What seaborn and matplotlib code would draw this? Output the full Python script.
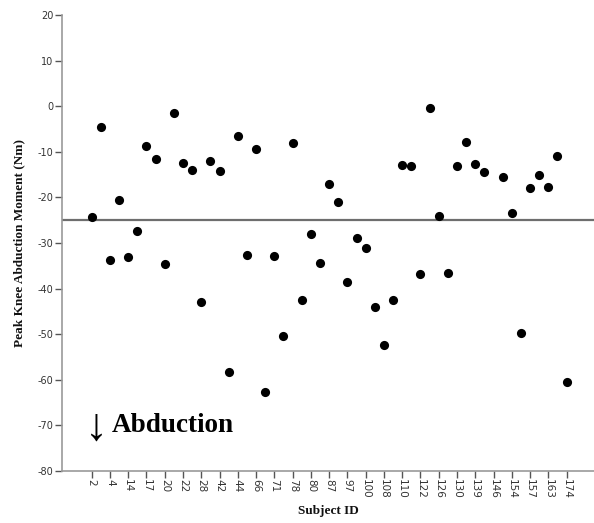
import numpy as np
import pandas as pd
import matplotlib
matplotlib.use("Agg")
import matplotlib.pyplot as plt
import seaborn as sns

subjects = ["2", "3", "4", "10", "14", "15", "17", "18", "20", "21", "22", "25", "28", "33",
            "42", "43", "44", "50", "66", "68", "71", "73", "78", "79", "80", "83", "87", "89",
            "97", "99", "100", "104", "108", "109", "110", "115", "122", "124", "126", "128",
            "130", "135", "139", "141", "146", "150", "154", "155", "157", "160", "163", "170", "174"]
moments = [-24.3, -4.5, -33.7, -20.5, -33.0, -27.4, -8.8, -11.6, -34.6, -1.4, -12.5, -13.9,
           -43.0, -12.0, -14.2, -58.3, -6.5, -32.7, -9.4, -62.6, -32.9, -50.4, -8.0, -42.5,
           -28.1, -34.4, -17.1, -21.1, -38.6, -28.8, -31.1, -44.1, -52.3, -42.5, -12.9, -13.1,
           -36.7, -0.3, -24.0, -36.5, -13.2, -7.8, -12.6, -14.5, np.nan, -15.6, -23.5, -49.7,
           -18.0, -15.0, -17.7, -11.0, -60.5]
labeled_ids = subjects[::2]
mean_line = -25.0
y_ticks = list(range(-80, 21, 10))

df = pd.DataFrame({"Subject ID": subjects, "Moment": moments})

sns.set_style("white")
fig = plt.figure(figsize=(5.94, 5.23), dpi=100)
ax = fig.add_axes([0.1044, 0.0994, 0.8956, 0.872])

sns.stripplot(data=df, x="Subject ID", y="Moment", order=subjects, jitter=False,
              color="black", size=6.6, linewidth=0, ax=ax, zorder=3)

ax.axhline(mean_line, color="#6e6e6e", linewidth=1.6, zorder=2)

ax.set_ylim(-80, 20)
ax.set_xlim(-3.25, 55.0)
ax.set_yticks(y_ticks)
ax.set_yticklabels([str(t) for t in y_ticks], fontsize=7, color="#333333", family="DejaVu Sans")
ax.set_xticks(range(0, len(subjects), 2))
ax.set_xticklabels(labeled_ids, rotation=-90, fontsize=7.5, color="#333333",
                   family="DejaVu Sans")
ax.tick_params(axis="both", which="both", direction="out", length=5, width=1,
               color="#555555", left=True, bottom=True, pad=1)

for s in ["top", "right"]:
    ax.spines[s].set_visible(False)
for s in ["left", "bottom"]:
    ax.spines[s].set_color("#999999")
    ax.spines[s].set_linewidth(1.2)

ax.set_ylabel("Peak Knee Abduction Moment (Nm)", fontsize=9.5, fontweight="bold",
              family="Liberation Serif", labelpad=9, color="#111111")
ax.set_xlabel("Subject ID", fontsize=9.5, fontweight="bold", family="Liberation Serif",
              labelpad=4, color="#111111")

ax.text(-0.75, -70.6, "\u2193", fontsize=33, family=["Liberation Serif", "DejaVu Serif"],
        ha="left", va="center", color="black")
ax.text(2.2, -70.0, "Abduction", fontsize=19.5, fontweight="bold",
        family="Liberation Serif", ha="left", va="center", color="black")

fig.savefig("out.png", dpi=100)
